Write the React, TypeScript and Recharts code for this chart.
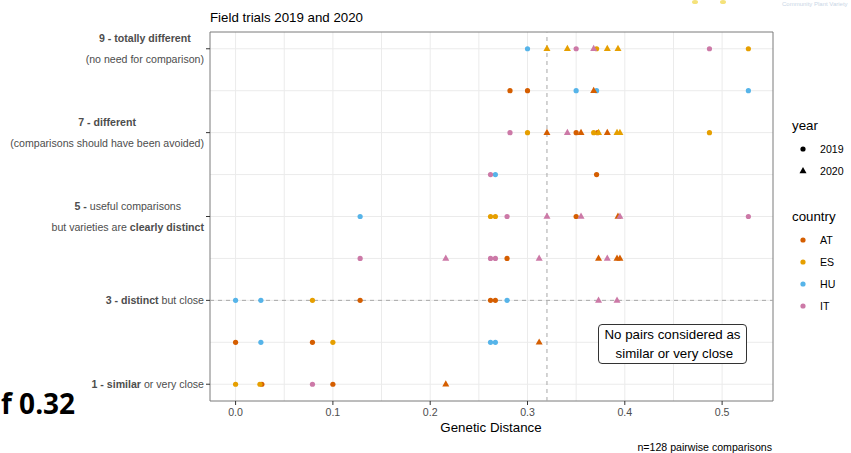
import {
  ScatterChart,
  Scatter,
  XAxis,
  YAxis,
  CartesianGrid,
  ReferenceLine,
  ReferenceArea,
} from 'recharts';

// score: 1..9 DUS rating, d: genetic distance
const AT_2019 = [
  { d: 0.282, score: 8 }, { d: 0.3, score: 8 },
  { d: 0.35, score: 7 }, { d: 0.372, score: 7 },
  { d: 0.371, score: 6 },
  { d: 0.35, score: 5 },
  { d: 0.279, score: 4 },
  { d: 0.128, score: 3 }, { d: 0.262, score: 3 }, { d: 0.267, score: 3 },
  { d: 0.0, score: 2 }, { d: 0.079, score: 2 },
  { d: 0.027, score: 1 }, { d: 0.1, score: 1 },
];
const AT_2020 = [
  { d: 0.368, score: 8 },
  { d: 0.32, score: 7 }, { d: 0.355, score: 7 }, { d: 0.382, score: 7 },
  { d: 0.393, score: 5 },
  { d: 0.373, score: 4 }, { d: 0.392, score: 4 }, { d: 0.395, score: 4 },
  { d: 0.312, score: 2 },
  { d: 0.216, score: 1 },
];
const ES_2019 = [
  { d: 0.371, score: 9 }, { d: 0.527, score: 9 },
  { d: 0.3, score: 7 }, { d: 0.368, score: 7 }, { d: 0.487, score: 7 },
  { d: 0.262, score: 5 }, { d: 0.267, score: 5 },
  { d: 0.079, score: 3 },
  { d: 0.1, score: 2 },
  { d: 0.0, score: 1 }, { d: 0.025, score: 1 },
];
const ES_2020 = [
  { d: 0.32, score: 9 }, { d: 0.341, score: 9 }, { d: 0.382, score: 9 }, { d: 0.393, score: 9 },
  { d: 0.373, score: 7 }, { d: 0.392, score: 7 }, { d: 0.395, score: 7 },
];
const HU_2019 = [
  { d: 0.3, score: 9 },
  { d: 0.35, score: 8 }, { d: 0.371, score: 8 }, { d: 0.527, score: 8 },
  { d: 0.267, score: 6 },
  { d: 0.128, score: 5 },
  { d: 0.0, score: 3 }, { d: 0.026, score: 3 }, { d: 0.279, score: 3 },
  { d: 0.026, score: 2 }, { d: 0.262, score: 2 }, { d: 0.267, score: 2 },
];
const IT_2019 = [
  { d: 0.35, score: 9 }, { d: 0.487, score: 9 },
  { d: 0.282, score: 7 },
  { d: 0.262, score: 6 },
  { d: 0.279, score: 5 }, { d: 0.527, score: 5 },
  { d: 0.128, score: 4 }, { d: 0.262, score: 4 }, { d: 0.267, score: 4 },
  { d: 0.079, score: 1 },
];
const IT_2020 = [
  { d: 0.368, score: 9 },
  { d: 0.341, score: 7 },
  { d: 0.32, score: 5 }, { d: 0.355, score: 5 }, { d: 0.395, score: 5 },
  { d: 0.216, score: 4 }, { d: 0.312, score: 4 }, { d: 0.382, score: 4 },
  { d: 0.373, score: 3 }, { d: 0.392, score: 3 },
];

const COUNTRIES = ['AT', 'ES', 'HU', 'IT'];
const YEARS = [2019, 2020];
const DIST_TICKS = [0, 0.1, 0.2, 0.3, 0.4, 0.5];
const DIST_MINOR = [0, 0.05, 0.1, 0.15, 0.2, 0.25, 0.3, 0.35, 0.4, 0.45, 0.5];
const SCORE_TICKS = [1, 3, 5, 7, 9];
const SCORE_GRID = [1, 2, 3, 4, 5, 6, 7, 8, 9];
const THRESHOLD = 0.32;

type Seg = { t: string; b?: boolean };
const SCORE_LABELS: Record<number, Seg[][]> = {
  9: [[{ t: '9 - totally different', b: true }], [{ t: '(no need for comparison)' }]],
  7: [[{ t: '7 - different', b: true }], [{ t: '(comparisons should have been avoided)' }]],
  5: [
    [{ t: '5 -', b: true }, { t: ' useful comparisons' }],
    [{ t: 'but varieties are ' }, { t: 'clearly distinct', b: true }],
  ],
  3: [[{ t: '3 - distinct', b: true }, { t: ' but close' }]],
  1: [[{ t: '1 - similar', b: true }, { t: ' or very close' }]],
};

const COLORS: Record<string, string> = {
  AT: '#D55E00',
  ES: '#E69F00',
  HU: '#56B4E9',
  IT: '#CC79A7',
};

const FONT = '"Liberation Sans", Arial, sans-serif';
const GREY = '#4D4D4D';
const TICK_SIZE = 10.6;

let ctx: CanvasRenderingContext2D | null = null;
function textWidth(t: string, bold?: boolean) {
  if (!ctx) ctx = document.createElement('canvas').getContext('2d');
  if (!ctx) return t.length * 5.5;
  ctx.font = `${bold ? 'bold ' : ''}${TICK_SIZE}px "Liberation Sans"`;
  return ctx.measureText(t).width;
}

function ScoreTick({ x, y, payload }: any) {
  const lines = SCORE_LABELS[payload.value];
  if (!lines) return null;
  const multi = lines.length > 1;
  const widths = lines.map((l) => l.reduce((s, seg) => s + textWidth(seg.t, seg.b), 0));
  const maxW = Math.max(...widths);
  const ax = multi ? x - maxW / 2 : x;
  const offs = multi ? [-10.5, 10] : [0];
  return (
    <g>
      {lines.map((line, i) => (
        <text
          key={i}
          x={ax}
          y={y + offs[i]}
          textAnchor={multi ? 'middle' : 'end'}
          dominantBaseline="central"
          fontSize={TICK_SIZE}
          fontFamily={FONT}
          fill={GREY}
          style={{ whiteSpace: 'pre' }}
        >
          {line.map((seg, j) => (
            <tspan key={j} fontWeight={seg.b ? 'bold' : 'normal'}>
              {seg.t}
            </tspan>
          ))}
        </text>
      ))}
    </g>
  );
}

const dot = (color: string) => (p: any) =>
  <circle cx={p.cx} cy={p.cy} r={2.6} fill={color} />;
const tri = (color: string) => (p: any) =>
  (
    <polygon
      points={`${p.cx},${p.cy - 3.9} ${p.cx - 3.5},${p.cy + 2.3} ${p.cx + 3.5},${p.cy + 2.3}`}
      fill={color}
    />
  );

const SERIES = [
  { key: 'AT2019', data: AT_2019, country: 'AT', year: 2019 },
  { key: 'ES2019', data: ES_2019, country: 'ES', year: 2019 },
  { key: 'HU2019', data: HU_2019, country: 'HU', year: 2019 },
  { key: 'IT2019', data: IT_2019, country: 'IT', year: 2019 },
  { key: 'AT2020', data: AT_2020, country: 'AT', year: 2020 },
  { key: 'ES2020', data: ES_2020, country: 'ES', year: 2020 },
  { key: 'IT2020', data: IT_2020, country: 'IT', year: 2020 },
];

const abs = (left: number, top: number, extra: any = {}) => ({
  position: 'absolute' as const,
  left,
  top,
  whiteSpace: 'nowrap' as const,
  ...extra,
});

export default function App() {
  return (
    <div
      style={{
        position: 'absolute',
        left: 0,
        top: 0,
        width: 851,
        height: 453,
        overflow: 'hidden',
        background: '#fff',
        fontFamily: FONT,
      }}
    >
      <ScatterChart width={851} height={453} margin={{ top: 32, right: 78, bottom: 30, left: 0 }}>
        <CartesianGrid
          stroke="#EBEBEB"
          strokeWidth={1}
          horizontalValues={SCORE_GRID}
          verticalValues={DIST_MINOR}
        />
        <XAxis
          type="number"
          dataKey="d"
          domain={[-0.0263, 0.5523]}
          allowDataOverflow
          ticks={DIST_TICKS}
          tickFormatter={(v: number) => v.toFixed(1)}
          axisLine={false}
          tickLine={{ stroke: '#333333' }}
          tickSize={4}
          tickMargin={3}
          height={22}
          tick={{ fontSize: TICK_SIZE, fill: GREY, fontFamily: FONT }}
        />
        <YAxis
          type="number"
          dataKey="score"
          domain={[0.6, 9.4]}
          allowDataOverflow
          ticks={SCORE_TICKS}
          axisLine={false}
          tickLine={{ stroke: '#333333' }}
          tickSize={4}
          tickMargin={2}
          width={210}
          tick={<ScoreTick />}
        />
        <ReferenceLine x={THRESHOLD} stroke="#A8A8A8" strokeDasharray="4 4" />
        <ReferenceLine y={3} stroke="#A8A8A8" strokeDasharray="4 4" />
        {SERIES.map((s) => (
          <Scatter
            key={s.key}
            data={s.data}
            isAnimationActive={false}
            shape={s.year === 2019 ? dot(COLORS[s.country]) : tri(COLORS[s.country])}
          />
        ))}
        <ReferenceArea
          x1={-0.0263}
          x2={0.5523}
          y1={0.6}
          y2={9.4}
          fill="none"
          stroke="#7A7A7A"
          strokeWidth={1}
          ifOverflow="visible"
        />
      </ScatterChart>

      {/* titles */}
      <div style={abs(210, 9, { fontSize: 13.3, lineHeight: '18px', color: '#000' })}>
        Field trials 2019 and 2020
      </div>
      <div style={abs(391, 419, { width: 200, textAlign: 'center', fontSize: 13.3, lineHeight: '18px', color: '#000' })}>
        Genetic Distance
      </div>
      <div style={abs(572, 440, { width: 200, textAlign: 'right', fontSize: 10.6, lineHeight: '15px', color: '#000' })}>
        n=128 pairwise comparisons
      </div>

      {/* annotation */}
      <div
        style={abs(598, 324, {
          width: 147,
          height: 38,
          border: '1px solid #333',
          borderRadius: 4,
          background: '#fff',
          fontSize: 13.3,
          lineHeight: '20px',
          textAlign: 'center',
          color: '#000',
        })}
      >
        <div>No pairs considered as</div>
        <div style={{ marginTop: -1 }}>&nbsp;similar or very close</div>
      </div>

      {/* legend */}
      <div style={abs(792, 117, { fontSize: 13.3, lineHeight: '18px', color: '#000' })}>year</div>
      {YEARS.map((yr, i) => (
        <div key={yr}>
          <svg style={abs(797, 143 + i * 22)} width={12} height={12}>
            {yr === 2019 ? (
              <circle cx={6} cy={6} r={2.6} fill="#000" />
            ) : (
              <polygon points="6,2.1 2.5,8.3 9.5,8.3" fill="#000" />
            )}
          </svg>
          <div style={abs(820, 141.5 + i * 22, { fontSize: TICK_SIZE, lineHeight: '15px', color: '#000' })}>
            {yr}
          </div>
        </div>
      ))}
      <div style={abs(792, 208, { fontSize: 13.3, lineHeight: '18px', color: '#000' })}>country</div>
      {COUNTRIES.map((c, i) => (
        <div key={c}>
          <svg style={abs(797, 234 + i * 22)} width={12} height={12}>
            <circle cx={6} cy={6} r={2.6} fill={COLORS[c]} />
          </svg>
          <div style={abs(820, 232.5 + i * 22, { fontSize: TICK_SIZE, lineHeight: '15px', color: '#000' })}>
            {c}
          </div>
        </div>
      ))}

      {/* slide leftovers around the figure */}
      <div style={abs(1, 386, { fontSize: 28, lineHeight: '34px', fontWeight: 'bold', color: '#000', fontFamily: '"Open Sans", sans-serif' })}>
        f 0.32
      </div>
      <div style={abs(782, 0, { fontSize: 6, lineHeight: '8px', color: '#C9D6E6' })}>
        Community Plant Variety
      </div>
      <svg style={abs(686, 0)} width={50} height={8}>
        <ellipse cx={9} cy={2} rx={3} ry={2} fill="#F5E27A" />
        <ellipse cx={37} cy={2} rx={3} ry={2} fill="#F5E27A" />
      </svg>
    </div>
  );
}
